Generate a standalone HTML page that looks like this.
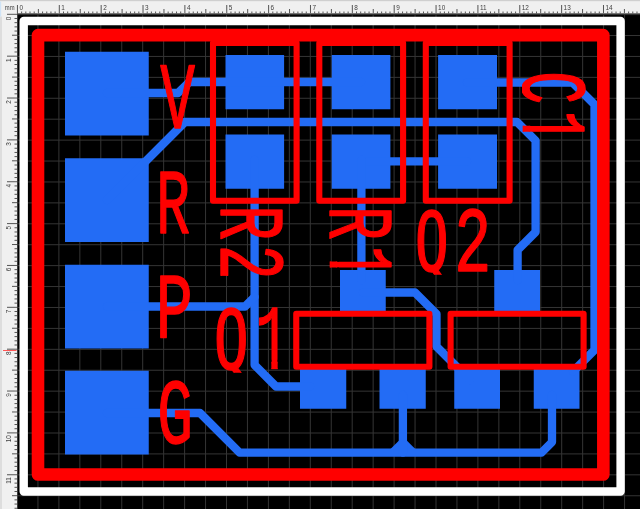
<!DOCTYPE html>
<html><head><meta charset="utf-8"><title>PCB view</title>
<style>html,body{margin:0;padding:0;background:#000;overflow:hidden}svg{display:block}.lbl text,.lbl tspan{vector-effect:non-scaling-stroke}</style></head><body>
<svg width="640" height="509" viewBox="0 0 640 509">
<rect width="640" height="509" fill="#000"/>
<path d="M17.00 13V509M37.95 13V509M58.90 13V509M79.85 13V509M100.80 13V509M121.75 13V509M142.70 13V509M163.65 13V509M184.60 13V509M205.55 13V509M226.50 13V509M247.45 13V509M268.40 13V509M289.35 13V509M310.30 13V509M331.25 13V509M352.20 13V509M373.15 13V509M394.10 13V509M415.05 13V509M436.00 13V509M456.95 13V509M477.90 13V509M498.85 13V509M519.80 13V509M540.75 13V509M561.70 13V509M582.65 13V509M603.60 13V509M624.55 13V509M17 14.60H640M17 35.52H640M17 56.44H640M17 77.36H640M17 98.28H640M17 119.20H640M17 140.12H640M17 161.04H640M17 181.96H640M17 202.88H640M17 223.80H640M17 244.72H640M17 265.64H640M17 286.56H640M17 307.48H640M17 328.40H640M17 349.32H640M17 370.24H640M17 391.16H640M17 412.08H640M17 433.00H640M17 453.92H640M17 474.84H640M17 495.76H640" stroke="#353535" stroke-width="1" fill="none"/>
<rect x="23.7" y="21" width="596.9" height="470.55" fill="none" stroke="#fff" stroke-width="8.4" stroke-linejoin="round"/>
<g fill="#236cf5" stroke="none">
<rect x="65" y="51.75" width="83.75" height="83.75"/>
<rect x="65" y="158.25" width="83.75" height="83.75"/>
<rect x="65" y="264.75" width="83.75" height="83.75"/>
<rect x="65" y="370.75" width="83.75" height="83.75"/>
<rect x="225.5" y="55" width="58.60" height="54.25"/>
<rect x="225.5" y="134.5" width="58.60" height="54.25"/>
<rect x="331.75" y="55" width="58.65" height="54.25"/>
<rect x="331.75" y="134.5" width="58.65" height="54.25"/>
<rect x="438.1" y="55" width="58.90" height="54.25"/>
<rect x="438.1" y="134.5" width="58.90" height="54.25"/>
<rect x="340" y="270" width="45.75" height="43.00"/>
<rect x="300" y="367" width="46.25" height="41.75"/>
<rect x="379.5" y="367" width="46.25" height="41.75"/>
<rect x="494.25" y="270" width="45.75" height="43.00"/>
<rect x="454.25" y="367" width="45.75" height="41.75"/>
<rect x="533.75" y="367" width="45.75" height="41.75"/>
<polygon points="390.5,449 398.8,440.7 407,440.7 415.3,449"/>
</g>
<g fill="none" stroke="#236cf5" stroke-width="8.3" stroke-linejoin="round" stroke-linecap="round">
<path d="M107 93H178L189.3 82H361"/>
<path d="M467 82.5H572.5L594.5 104.5V350L573 371.5"/>
<path d="M107 200L185 122H517L535.6 140.6V232L517.6 250V280"/>
<path d="M254.6 160V365L276 386.5H310"/>
<path d="M107 306.5H245L254.6 297"/>
<path d="M361 161.3H467"/>
<path d="M361.4 160V280"/>
<path d="M363 292.5H415L436.5 314V346.5L458 368L470 380"/>
<path d="M107 413H200L239.6 452.6H541.5L552 442.1V395"/>
<path d="M402.9 395V452.6"/>
</g>
<rect x="38" y="35.1" width="565.35" height="439.4" fill="none" stroke="#ff0000" stroke-width="12.6" stroke-linejoin="round"/>
<g fill="none" stroke="#ff0000" stroke-width="6.1" stroke-linejoin="round">
<rect x="213" y="43" width="83.60" height="157.75"/>
<rect x="319.3" y="43" width="83.80" height="157.75"/>
<rect x="425.8" y="43" width="83.80" height="157.75"/>
<rect x="296.25" y="313.75" width="133.15" height="53.00"/>
<rect x="450.6" y="313.75" width="133.00" height="53.00"/>
</g>
<defs><clipPath id="c1"><rect x="-20.00" y="-60.00" width="57.71" height="62.20"/><rect x="36.21" y="-60.00" width="60.00" height="55.23"/><rect x="50.18" y="-5.77" width="5.49" height="6.09"/></clipPath><clipPath id="c2"><rect x="-20.00" y="-60.00" width="400.00" height="62.20"/></clipPath><clipPath id="c3"><rect x="-20.00" y="-60.00" width="56.78" height="60.60"/><rect x="35.28" y="-60.00" width="60.00" height="55.22"/><rect x="49.24" y="-5.78" width="5.52" height="6.10"/></clipPath><clipPath id="c4"><rect x="-20.00" y="-60.00" width="57.14" height="60.60"/><rect x="35.64" y="-60.00" width="60.00" height="55.22"/><rect x="49.59" y="-5.78" width="5.54" height="6.10"/></clipPath></defs>
<g font-family="Liberation Mono, monospace" font-size="50" fill="#ff0000" stroke="#ff0000" stroke-width="1.2" stroke-linejoin="round" class="lbl">
<text transform="translate(160.22 128.00) scale(1.1596 1.8734)" x="0.00" y="0">V</text>
<text transform="translate(156.35 233.00) scale(1.1259 1.8552)" x="0.00" y="0">R</text>
<text transform="translate(155.72 337.15) scale(1.2327 1.8612)" x="0.00" y="0">P</text>
<text transform="translate(157.31 443.10) scale(1.1916 1.8597)" x="0.00" y="0">G</text>
<text transform="translate(213.63 368.70) scale(1.1500 1.8643)" x="0.00 36.21" y="0" clip-path="url(#c1)"><tspan font-family="DejaVu Sans Mono, Liberation Mono, monospace" font-size="44.38" textLength="30.43" lengthAdjust="spacingAndGlyphs" stroke-width="1.2">Q</tspan>1</text>
<text transform="translate(414.87 270.65) scale(1.2332 1.8612)" x="0.00 31.94" y="0" clip-path="url(#c2)"><tspan font-family="DejaVu Sans Mono, Liberation Mono, monospace" font-size="44.38" textLength="27.57" lengthAdjust="spacingAndGlyphs" stroke-width="1.2">Q</tspan>2</text>
<text transform="translate(220.60 205.17) rotate(90) scale(1.1674 1.8612)" x="0.00 33.91" y="0">R2</text>
<text transform="translate(330.10 206.16) rotate(90) scale(1.1219 1.8461)" x="0.00 35.28" y="0" clip-path="url(#c3)">R1</text>
<text transform="translate(523.10 71.32) rotate(90) scale(1.0966 1.8461)" x="0.00 35.64" y="0" clip-path="url(#c4)">C1</text>
</g>
<rect x="0" y="0" width="640" height="13.5" fill="#f0f0f0"/>
<rect x="0" y="0" width="17" height="509" fill="#f0f0f0"/>
<rect x="0" y="0" width="640" height="1.2" fill="#cfcfcf"/>
<rect x="0" y="16.5" width="2" height="493" fill="#dddddd"/>
<rect x="0" y="1.5" width="1.2" height="15" fill="#cfe3f6"/>
<rect x="17" y="13.5" width="1" height="496" fill="#3a3a3a"/>
<path d="M17.45 5V13.5M21.64 11.5V13.5M25.82 11.5V13.5M30.01 11.5V13.5M34.19 11.5V13.5M38.38 9V13.5M42.57 11.5V13.5M46.75 11.5V13.5M50.94 11.5V13.5M55.12 11.5V13.5M59.31 5V13.5M63.50 11.5V13.5M67.68 11.5V13.5M71.87 11.5V13.5M76.05 11.5V13.5M80.24 9V13.5M84.43 11.5V13.5M88.61 11.5V13.5M92.80 11.5V13.5M96.98 11.5V13.5M101.17 5V13.5M105.36 11.5V13.5M109.54 11.5V13.5M113.73 11.5V13.5M117.91 11.5V13.5M122.10 9V13.5M126.29 11.5V13.5M130.47 11.5V13.5M134.66 11.5V13.5M138.84 11.5V13.5M143.03 5V13.5M147.22 11.5V13.5M151.40 11.5V13.5M155.59 11.5V13.5M159.77 11.5V13.5M163.96 9V13.5M168.15 11.5V13.5M172.33 11.5V13.5M176.52 11.5V13.5M180.70 11.5V13.5M184.89 5V13.5M189.08 11.5V13.5M193.26 11.5V13.5M197.45 11.5V13.5M201.63 11.5V13.5M205.82 9V13.5M210.01 11.5V13.5M214.19 11.5V13.5M218.38 11.5V13.5M222.56 11.5V13.5M226.75 5V13.5M230.94 11.5V13.5M235.12 11.5V13.5M239.31 11.5V13.5M243.49 11.5V13.5M247.68 9V13.5M251.87 11.5V13.5M256.05 11.5V13.5M260.24 11.5V13.5M264.42 11.5V13.5M268.61 5V13.5M272.80 11.5V13.5M276.98 11.5V13.5M281.17 11.5V13.5M285.35 11.5V13.5M289.54 9V13.5M293.73 11.5V13.5M297.91 11.5V13.5M302.10 11.5V13.5M306.28 11.5V13.5M310.47 5V13.5M314.66 11.5V13.5M318.84 11.5V13.5M323.03 11.5V13.5M327.21 11.5V13.5M331.40 9V13.5M335.59 11.5V13.5M339.77 11.5V13.5M343.96 11.5V13.5M348.14 11.5V13.5M352.33 5V13.5M356.52 11.5V13.5M360.70 11.5V13.5M364.89 11.5V13.5M369.07 11.5V13.5M373.26 9V13.5M377.45 11.5V13.5M381.63 11.5V13.5M385.82 11.5V13.5M390.00 11.5V13.5M394.19 5V13.5M398.38 11.5V13.5M402.56 11.5V13.5M406.75 11.5V13.5M410.93 11.5V13.5M415.12 9V13.5M419.31 11.5V13.5M423.49 11.5V13.5M427.68 11.5V13.5M431.86 11.5V13.5M436.05 5V13.5M440.24 11.5V13.5M444.42 11.5V13.5M448.61 11.5V13.5M452.79 11.5V13.5M456.98 9V13.5M461.17 11.5V13.5M465.35 11.5V13.5M469.54 11.5V13.5M473.72 11.5V13.5M477.91 5V13.5M482.10 11.5V13.5M486.28 11.5V13.5M490.47 11.5V13.5M494.65 11.5V13.5M498.84 9V13.5M503.03 11.5V13.5M507.21 11.5V13.5M511.40 11.5V13.5M515.58 11.5V13.5M519.77 5V13.5M523.96 11.5V13.5M528.14 11.5V13.5M532.33 11.5V13.5M536.51 11.5V13.5M540.70 9V13.5M544.89 11.5V13.5M549.07 11.5V13.5M553.26 11.5V13.5M557.44 11.5V13.5M561.63 5V13.5M565.82 11.5V13.5M570.00 11.5V13.5M574.19 11.5V13.5M578.37 11.5V13.5M582.56 9V13.5M586.75 11.5V13.5M590.93 11.5V13.5M595.12 11.5V13.5M599.30 11.5V13.5M603.49 5V13.5M607.68 11.5V13.5M611.86 11.5V13.5M616.05 11.5V13.5M620.23 11.5V13.5M624.42 9V13.5M628.61 11.5V13.5M632.79 11.5V13.5M636.98 11.5V13.5M7 14.30H17M14.5 18.49H17M14.5 22.67H17M14.5 26.86H17M14.5 31.04H17M12 35.23H17M14.5 39.42H17M14.5 43.60H17M14.5 47.79H17M14.5 51.97H17M7 56.16H17M14.5 60.35H17M14.5 64.53H17M14.5 68.72H17M14.5 72.90H17M12 77.09H17M14.5 81.28H17M14.5 85.46H17M14.5 89.65H17M14.5 93.83H17M7 98.02H17M14.5 102.21H17M14.5 106.39H17M14.5 110.58H17M14.5 114.76H17M12 118.95H17M14.5 123.14H17M14.5 127.32H17M14.5 131.51H17M14.5 135.69H17M7 139.88H17M14.5 144.07H17M14.5 148.25H17M14.5 152.44H17M14.5 156.62H17M12 160.81H17M14.5 165.00H17M14.5 169.18H17M14.5 173.37H17M14.5 177.55H17M7 181.74H17M14.5 185.93H17M14.5 190.11H17M14.5 194.30H17M14.5 198.48H17M12 202.67H17M14.5 206.86H17M14.5 211.04H17M14.5 215.23H17M14.5 219.41H17M7 223.60H17M14.5 227.79H17M14.5 231.97H17M14.5 236.16H17M14.5 240.34H17M12 244.53H17M14.5 248.72H17M14.5 252.90H17M14.5 257.09H17M14.5 261.27H17M7 265.46H17M14.5 269.65H17M14.5 273.83H17M14.5 278.02H17M14.5 282.20H17M12 286.39H17M14.5 290.58H17M14.5 294.76H17M14.5 298.95H17M14.5 303.13H17M7 307.32H17M14.5 311.51H17M14.5 315.69H17M14.5 319.88H17M14.5 324.06H17M12 328.25H17M14.5 332.44H17M14.5 336.62H17M14.5 340.81H17M14.5 344.99H17M7 349.18H17M14.5 353.37H17M14.5 357.55H17M14.5 361.74H17M14.5 365.92H17M12 370.11H17M14.5 374.30H17M14.5 378.48H17M14.5 382.67H17M14.5 386.85H17M7 391.04H17M14.5 395.23H17M14.5 399.41H17M14.5 403.60H17M14.5 407.78H17M12 411.97H17M14.5 416.16H17M14.5 420.34H17M14.5 424.53H17M14.5 428.71H17M7 432.90H17M14.5 437.09H17M14.5 441.27H17M14.5 445.46H17M14.5 449.64H17M12 453.83H17M14.5 458.02H17M14.5 462.20H17M14.5 466.39H17M14.5 470.57H17M7 474.76H17M14.5 478.95H17M14.5 483.13H17M14.5 487.32H17M14.5 491.50H17M12 495.69H17M14.5 499.88H17M14.5 504.06H17M14.5 508.25H17" stroke="#555" stroke-width="1" fill="none"/>
<rect x="3" y="350" width="13.5" height="0.9" fill="#f44"/>
<g fill="#3c3c3c" font-family="Liberation Sans, sans-serif" font-size="6.4" opacity="0.99">
<text transform="translate(4.8 10.1) scale(0.78 1)" font-size="7.5">mm</text>
<text x="19.4" y="9.7">0</text>
<text x="61.3" y="9.7">1</text>
<text x="103.2" y="9.7">2</text>
<text x="145.0" y="9.7">3</text>
<text x="186.9" y="9.7">4</text>
<text x="228.8" y="9.7">5</text>
<text x="270.6" y="9.7">6</text>
<text x="312.5" y="9.7">7</text>
<text x="354.3" y="9.7">8</text>
<text x="396.2" y="9.7">9</text>
<text x="438.1" y="9.7">10</text>
<text x="479.9" y="9.7">11</text>
<text x="521.8" y="9.7">12</text>
<text x="563.6" y="9.7">13</text>
<text x="605.5" y="9.7">14</text>
<text transform="translate(11.2 16.6) rotate(-90)" text-anchor="end">0</text>
<text transform="translate(11.2 58.5) rotate(-90)" text-anchor="end">1</text>
<text transform="translate(11.2 100.3) rotate(-90)" text-anchor="end">2</text>
<text transform="translate(11.2 142.2) rotate(-90)" text-anchor="end">3</text>
<text transform="translate(11.2 184.0) rotate(-90)" text-anchor="end">4</text>
<text transform="translate(11.2 225.9) rotate(-90)" text-anchor="end">5</text>
<text transform="translate(11.2 267.8) rotate(-90)" text-anchor="end">6</text>
<text transform="translate(11.2 309.6) rotate(-90)" text-anchor="end">7</text>
<text transform="translate(11.2 351.5) rotate(-90)" text-anchor="end">8</text>
<text transform="translate(11.2 393.3) rotate(-90)" text-anchor="end">9</text>
<text transform="translate(11.2 435.2) rotate(-90)" text-anchor="end">10</text>
<text transform="translate(11.2 477.1) rotate(-90)" text-anchor="end">11</text>
</g>
</svg></body></html>
